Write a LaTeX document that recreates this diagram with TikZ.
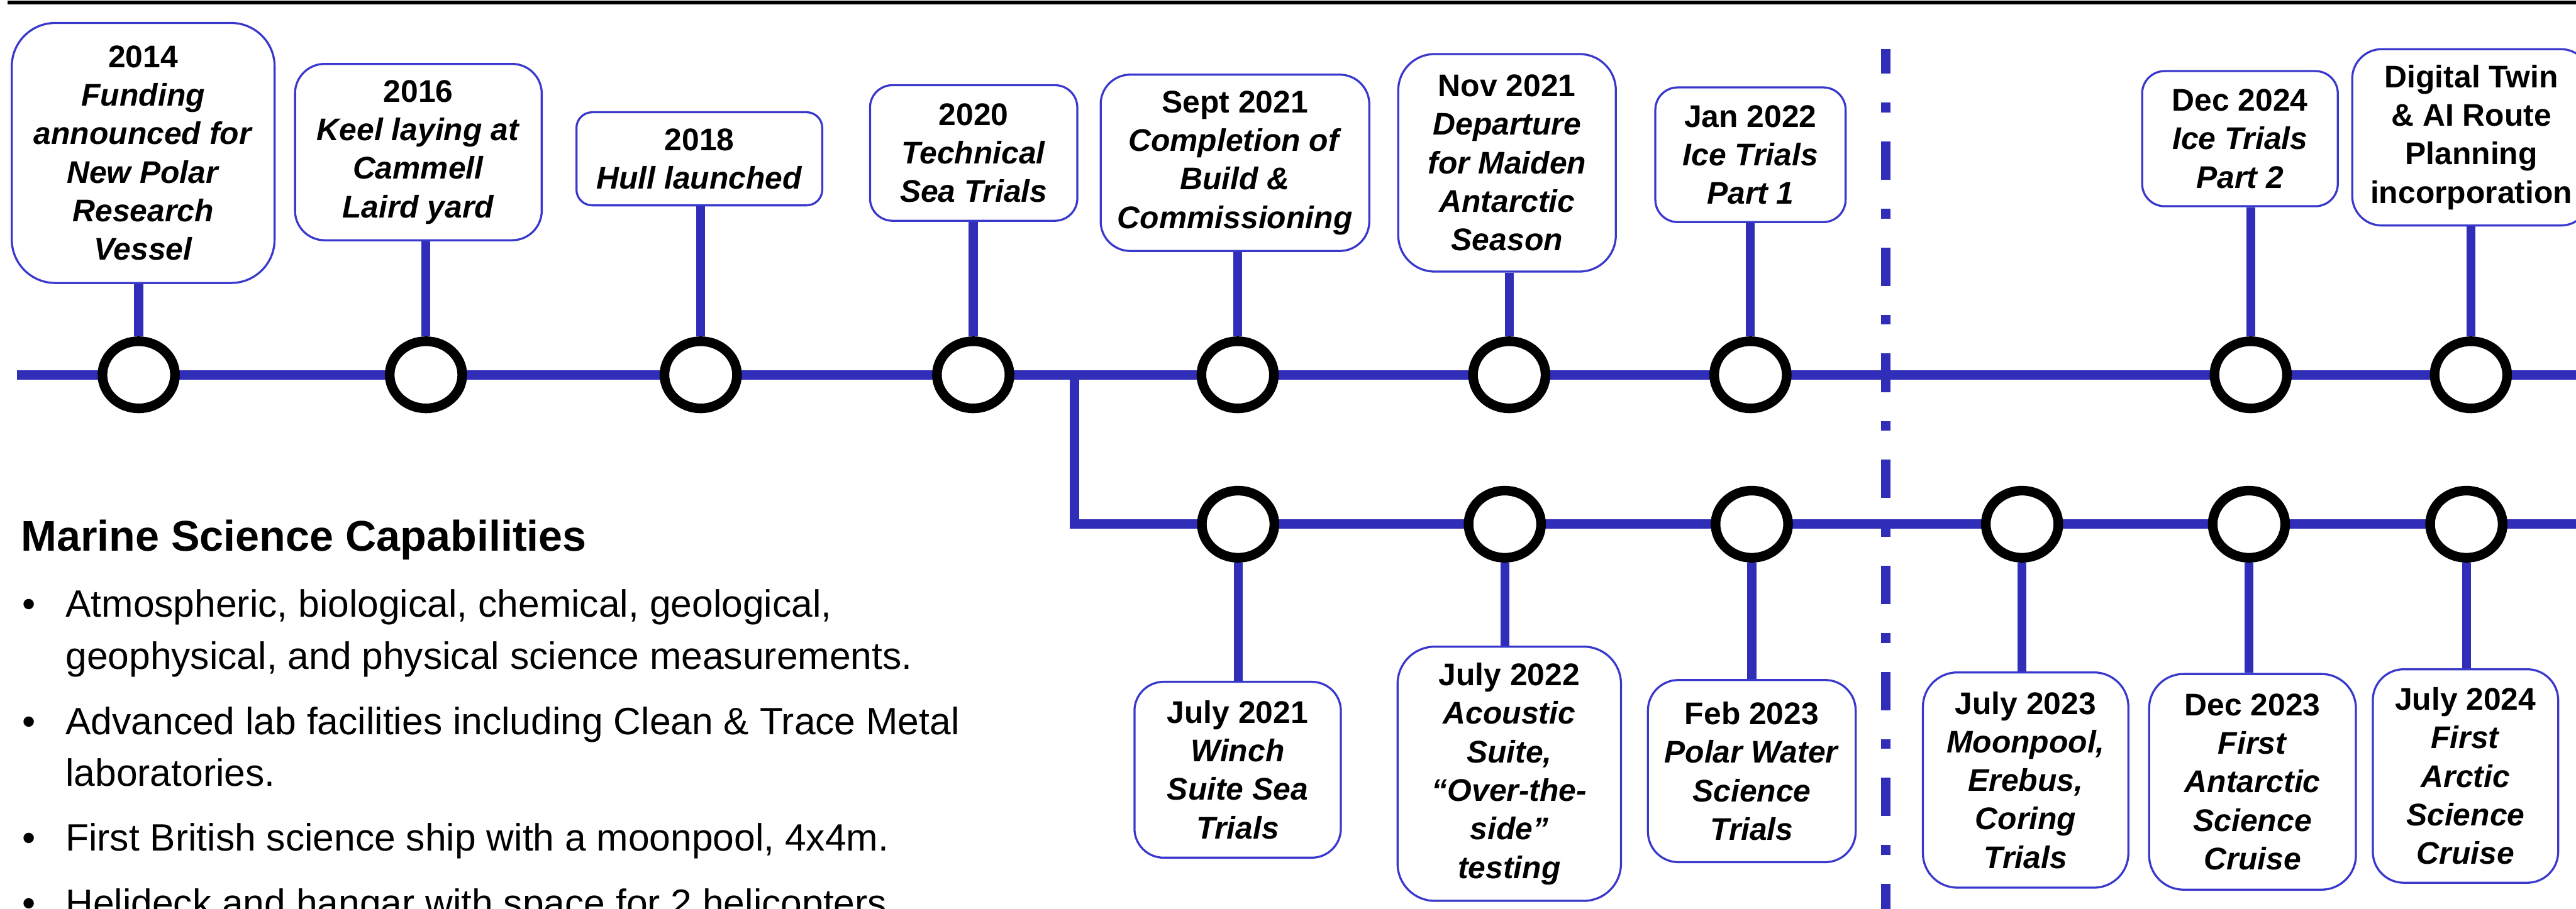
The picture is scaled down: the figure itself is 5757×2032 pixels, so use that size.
\documentclass[tikz,border=0pt]{standalone}
\usepackage{fontspec}
\setmainfont{Liberation Sans}
\usetikzlibrary{shapes.geometric,positioning}
\definecolor{trackblue}{RGB}{48,46,184}
\definecolor{edgeblue}{RGB}{56,56,204}

\begin{document}
\begin{tikzpicture}[x=0.01cm, y=-0.01cm,
  track/.style={draw=trackblue, line width=0.21cm,
    preaction={draw=black!14, transform canvas={shift={(3,4)}}}},
  stem/.style={draw=trackblue, line width=0.2cm},
  divider/.style={draw=trackblue, line width=0.21cm,
    dash pattern=on 0.86cm off 0.645cm on 0.22cm off 0.645cm, dash phase=0.31cm},
  event/.style n args={3}{draw=edgeblue, line width=0.046cm, fill=white,
    rounded corners=#3cm, minimum width=#1cm, minimum height=#2cm,
    inner sep=0pt, align=center, font=\fontsize{19.9pt}{24.5pt}\selectfont\bfseries},
  stop/.style={ellipse, draw=black, line width=0.215cm, fill=white,
    minimum width=1.62cm, minimum height=1.5cm, inner sep=0pt},
  bodytext/.style={anchor=base west, inner sep=0pt, font=\fontsize{24.2pt}{30pt}\selectfont}
]
\clip (0,0) rectangle (5757,2032);

% rule along the top
\coordinate (rule-l) at (17,6);
\coordinate (rule-r) at (5800,6);
\draw[line width=0.08cm] (rule-l) -- (rule-r);

% build track and science track
\coordinate (main-l) at (38,838);
\coordinate (main-r) at (5800,838);
\coordinate (fork) at (2401,846);
\coordinate (low-r) at (5800,1172);
\draw[track] (main-l) -- (main-r);
\draw[track] (fork) |- (low-r);

% divider
\coordinate (div-t) at (4215,110);
\coordinate (div-b) at (4215,2040);
\draw[divider] (div-t) -- (div-b);

% milestones above
\node[event={5.87}{5.81}{0.97}] (funding) at (320,342) {2014\\\textit{Funding}\\\textit{announced for}\\\textit{New Polar}\\\textit{Research}\\\textit{Vessel}};
\node[event={5.51}{3.94}{0.66}] (keel) at (935,340) {2016\\\textit{Keel laying at}\\\textit{Cammell}\\\textit{Laird yard}};
\node[event={5.49}{2.08}{0.35}] (hull) at (1563,355) {2018\\\textit{Hull launched}};
\node[event={4.63}{3.03}{0.50}] (seatrials) at (2176,342) {2020\\\textit{Technical}\\\textit{Sea Trials}};
\node[event={6.00}{3.94}{0.66}] (build) at (2760,364) {Sept 2021\\\textit{Completion of}\\\textit{Build \&}\\\textit{Commissioning}};
\node[event={4.86}{4.86}{0.81}] (departure) at (3368,364) {Nov 2021\\\textit{Departure}\\\textit{for Maiden}\\\textit{Antarctic}\\\textit{Season}};
\node[event={4.25}{3.01}{0.50}] (icepart1) at (3912,346) {Jan 2022\\\textit{Ice Trials}\\\textit{Part 1}};
\node[event={4.37}{3.02}{0.50}] (icepart2) at (5006,310) {Dec 2024\\\textit{Ice Trials}\\\textit{Part 2}};
\node[event={5.32}{3.94}{0.66}] (twin) at (5523,307) {Digital Twin\\\& AI Route\\Planning\\incorporation};

% milestones below
\node[event={4.61}{3.93}{0.65}] (winch) at (2766,1721) {July 2021\\\textit{Winch}\\\textit{Suite Sea}\\\textit{Trials}};
\node[event={4.99}{5.68}{0.83}] (acoustic) at (3373,1730) {July 2022\\\textit{Acoustic}\\\textit{Suite,}\\\textit{“Over-the-}\\\textit{side”}\\\textit{testing}};
\node[event={4.64}{4.07}{0.68}] (polarwater) at (3915,1724) {Feb 2023\\\textit{Polar Water}\\\textit{Science}\\\textit{Trials}};
\node[event={4.59}{4.81}{0.77}] (moonpool) at (4527,1744) {July 2023\\\textit{Moonpool,}\\\textit{Erebus,}\\\textit{Coring}\\\textit{Trials}};
\node[event={4.62}{4.82}{0.77}] (antarctic) at (5034,1748) {Dec 2023\\\textit{First}\\\textit{Antarctic}\\\textit{Science}\\\textit{Cruise}};
\node[event={4.14}{4.77}{0.69}] (arctic) at (5510,1735) {July 2024\\\textit{First}\\\textit{Arctic}\\\textit{Science}\\\textit{Cruise}};

% stops on the tracks
\node[stop] (funding-stop) at (310,838) {};
\node[stop] (keel-stop) at (952,838) {};
\node[stop] (hull-stop) at (1566,838) {};
\node[stop] (seatrials-stop) at (2175,838) {};
\node[stop] (build-stop) at (2766,838) {};
\node[stop] (departure-stop) at (3373,838) {};
\node[stop] (icepart1-stop) at (3912,838) {};
\node[stop] (icepart2-stop) at (5030,838) {};
\node[stop] (twin-stop) at (5522,838) {};
\node[stop] (winch-stop) at (2767,1172) {};
\node[stop] (acoustic-stop) at (3363,1172) {};
\node[stop] (polarwater-stop) at (3915,1172) {};
\node[stop] (moonpool-stop) at (4519,1172) {};
\node[stop] (antarctic-stop) at (5026,1172) {};
\node[stop] (arctic-stop) at (5512,1172) {};

% stems
\foreach \n in {funding,keel,hull,seatrials,build,departure,icepart1,icepart2,twin}
  \draw[stem] (\n-stop |- \n.south) -- (\n-stop.north);
\foreach \n in {winch,acoustic,polarwater,moonpool,antarctic,arctic}
  \draw[stem] (\n-stop.south) -- (\n-stop |- \n.north);

% capabilities list
\node[anchor=base west, inner sep=0pt, font=\fontsize{27.3pt}{32pt}\selectfont\bfseries] (capabilities) at (46,1232) {Marine Science Capabilities};
\foreach \y in {1379,1642,1903,2049}
  \node[bodytext] (bullet-\y) at (49,\y) {•};
\foreach \y/\txt in {1379/{Atmospheric, biological, chemical, geological,},
    1496/{geophysical, and physical science measurements.},
    1642/{Advanced lab facilities including Clean \& Trace Metal},
    1758/{laboratories.},
    1903/{First British science ship with a moonpool, 4x4m.},
    2049/{Helideck and hangar with space for 2 helicopters}}
  \node[bodytext] (line-\y) at (146,\y) {\txt};
\end{tikzpicture}
\end{document}
